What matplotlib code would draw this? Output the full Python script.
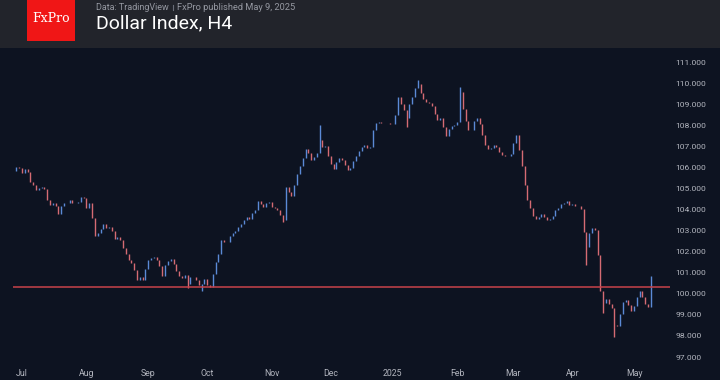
import numpy as np
import pandas as pd
import matplotlib
matplotlib.use("Agg")
import matplotlib.pyplot as plt
from matplotlib.patches import Rectangle
from matplotlib.lines import Line2D

# Dollar Index, daily closes (26 Jun 2024 - 9 May 2025)
closes = [
    105.84, 106.03, 105.98, 105.74, 105.93, 105.79, 105.31, 105.17, 104.93, 105.03,
    105.08, 104.98, 104.46, 104.22, 104.32, 104.17, 103.79, 104.17, 104.32, 104.32,
    104.46, 104.32, 104.32, 104.36, 104.60, 104.55, 104.08, 104.32, 103.60, 102.75,
    102.89, 103.08, 103.32, 103.13, 103.18, 102.99, 102.61, 102.70, 102.56, 102.18,
    101.89, 101.61, 101.47, 101.13, 100.66, 100.80, 100.66, 101.18, 101.61, 101.70,
    101.75, 101.61, 101.32, 100.85, 101.37, 101.56, 101.66, 101.42, 101.09, 100.85,
    100.75, 100.90, 100.47, 100.80, 100.80, 100.66, 100.42, 100.47, 100.71, 100.42,
    100.33, 100.94, 101.51, 101.89, 102.56, 102.46, 102.46, 102.75, 102.89, 102.99,
    103.18, 103.32, 103.51, 103.65, 103.56, 103.84, 103.98, 104.41, 104.27, 104.13,
    104.32, 104.36, 104.13, 104.08, 103.98, 103.75, 103.51, 105.08, 104.84, 104.65,
    105.17, 105.69, 106.07, 106.45, 106.88, 106.69, 106.36, 106.50, 106.69, 107.31,
    106.98, 107.02, 106.55, 106.17, 105.93, 106.26, 106.45, 106.36, 106.12, 105.88,
    105.98, 106.31, 106.55, 106.79, 106.98, 107.07, 106.93, 106.98, 107.78, 108.12,
    108.16, 108.12, 108.12, 108.12, 108.07, 108.07, 108.50, 109.35, 109.02, 108.73,
    108.35, 109.02, 109.35, 109.78, 109.97, 109.54, 109.26, 109.11, 109.07, 108.92,
    108.54, 108.26, 108.35, 107.93, 107.50, 107.83, 107.97, 108.02, 108.16, 109.59,
    108.78, 108.21, 107.78, 107.78, 108.21, 108.35, 108.07, 107.55, 107.07, 106.88,
    106.93, 107.07, 106.98, 106.74, 106.60, 106.55, 106.55, 106.64, 107.17, 107.55,
    106.83, 106.07, 105.17, 104.46, 104.08, 103.70, 103.56, 103.65, 103.79, 103.65,
    103.51, 103.56, 103.70, 103.98, 104.08, 104.27, 104.32, 104.41, 104.22, 104.27,
    104.17, 104.17, 104.03, 102.94, 102.23, 102.89, 103.13, 103.03, 101.85, 100.14,
    99.57, 99.76, 99.52, 99.33, 98.52, 98.47, 99.04, 99.61, 99.71, 99.47,
    99.19, 99.42, 99.85, 100.14, 99.85, 99.52, 99.38, 100.61,
]

# wick extremes that stand out from the bodies
wick_dates = ["2024-09-20", "2024-09-27", "2024-11-07", "2024-11-26", "2025-01-08",
              "2025-01-14", "2025-02-04", "2025-04-08", "2025-04-16", "2025-04-22",
              "2025-05-09"]
wick_values = [100.28, 100.14, 103.41, 108.02, 107.93,
               110.15, 109.83, 101.37, 99.09, 97.95,
               100.87]

level = 100.31
y_ticks = [97, 98, 99, 100, 101, 102, 103, 104, 105, 106, 107, 108, 109, 110, 111]

dates = pd.bdate_range("2024-06-26", periods=len(closes))
opens = [closes[0]] + closes[:-1]
highs = np.maximum(opens, closes)
lows = np.minimum(opens, closes)
for d, v in zip(wick_dates, wick_values):
    k = dates.get_loc(pd.Timestamp(d))
    highs[k] = max(highs[k], v)
    lows[k] = min(lows[k], v)

bg = "#0d1321"
header = "#22242b"
txt = "#b2b5be"
up = "#5b8ad6"
down = "#d56b73"

fig = plt.figure(figsize=(7.2, 3.8), dpi=100)
fig.patch.set_facecolor(bg)
plt.rcParams["font.family"] = ["Roboto", "DejaVu Sans"]

W, H = 720.0, 380.0
ax = fig.add_axes([0, 15 / H, 670 / W, (380 - 15 - 48) / H])
ax.set_facecolor(bg)

x = np.arange(len(closes))
cols = [up if c >= o else down for o, c in zip(opens, closes)]
ax.vlines(x, lows, highs, colors=cols, linewidth=1.0)

ax.hlines(level, 0, 240, color="#c7424a", linewidth=1.1)

ax.set_xlim(-4.8, 233.8)
ax.set_ylim(96.62, 111.68)

# month ticks
months = dates.month
tick_pos = [i for i in range(1, len(dates)) if months[i] != months[i - 1]]
tick_lab = ["2025" if dates[i].month == 1 else dates[i].strftime("%b") for i in tick_pos]
ax.set_xticks(tick_pos)
ax.set_xticklabels(tick_lab, fontsize=6.3, color=txt)

ax.yaxis.tick_right()
ax.set_yticks(y_ticks)
ax.set_yticklabels(["{:.3f}".format(v) for v in y_ticks], fontsize=6.1, color=txt)
ax.tick_params(axis="both", length=0)
ax.tick_params(axis="x", pad=3)
ax.tick_params(axis="y", pad=4)
for s in ax.spines.values():
    s.set_visible(False)

# header band and logo
fig.patches.append(Rectangle((0, 1 - 48 / H), 1, 48 / H, transform=fig.transFigure,
                             facecolor=header, edgecolor="none", zorder=0))
fig.patches.append(Rectangle((27 / W, 1 - 41 / H), 48 / W, 41 / H, transform=fig.transFigure,
                             facecolor="#f01616", edgecolor="none", zorder=1))
fig.text(51 / W, 1 - 19 / H, "FxPro", family="DejaVu Serif", fontsize=9,
         color="white", ha="center", va="center")

fig.text(96 / W, 1 - 7 / H, "Data: TradingView", fontsize=6.5, color="#9598a1", va="center")
fig.lines.append(Line2D([172.5 / W, 172.5 / W], [1 - 4.5 / H, 1 - 9.5 / H], transform=fig.transFigure,
                        color="#6a6d78", linewidth=0.8))
fig.text(177 / W, 1 - 7 / H, "FxPro published May 9, 2025", fontsize=6.7, color="#9598a1", va="center")
fig.text(96 / W, 1 - 23 / H, "Dollar Index, H4", fontsize=14, color="white", va="center")

plt.savefig("out.png", dpi=100, facecolor=fig.get_facecolor())
